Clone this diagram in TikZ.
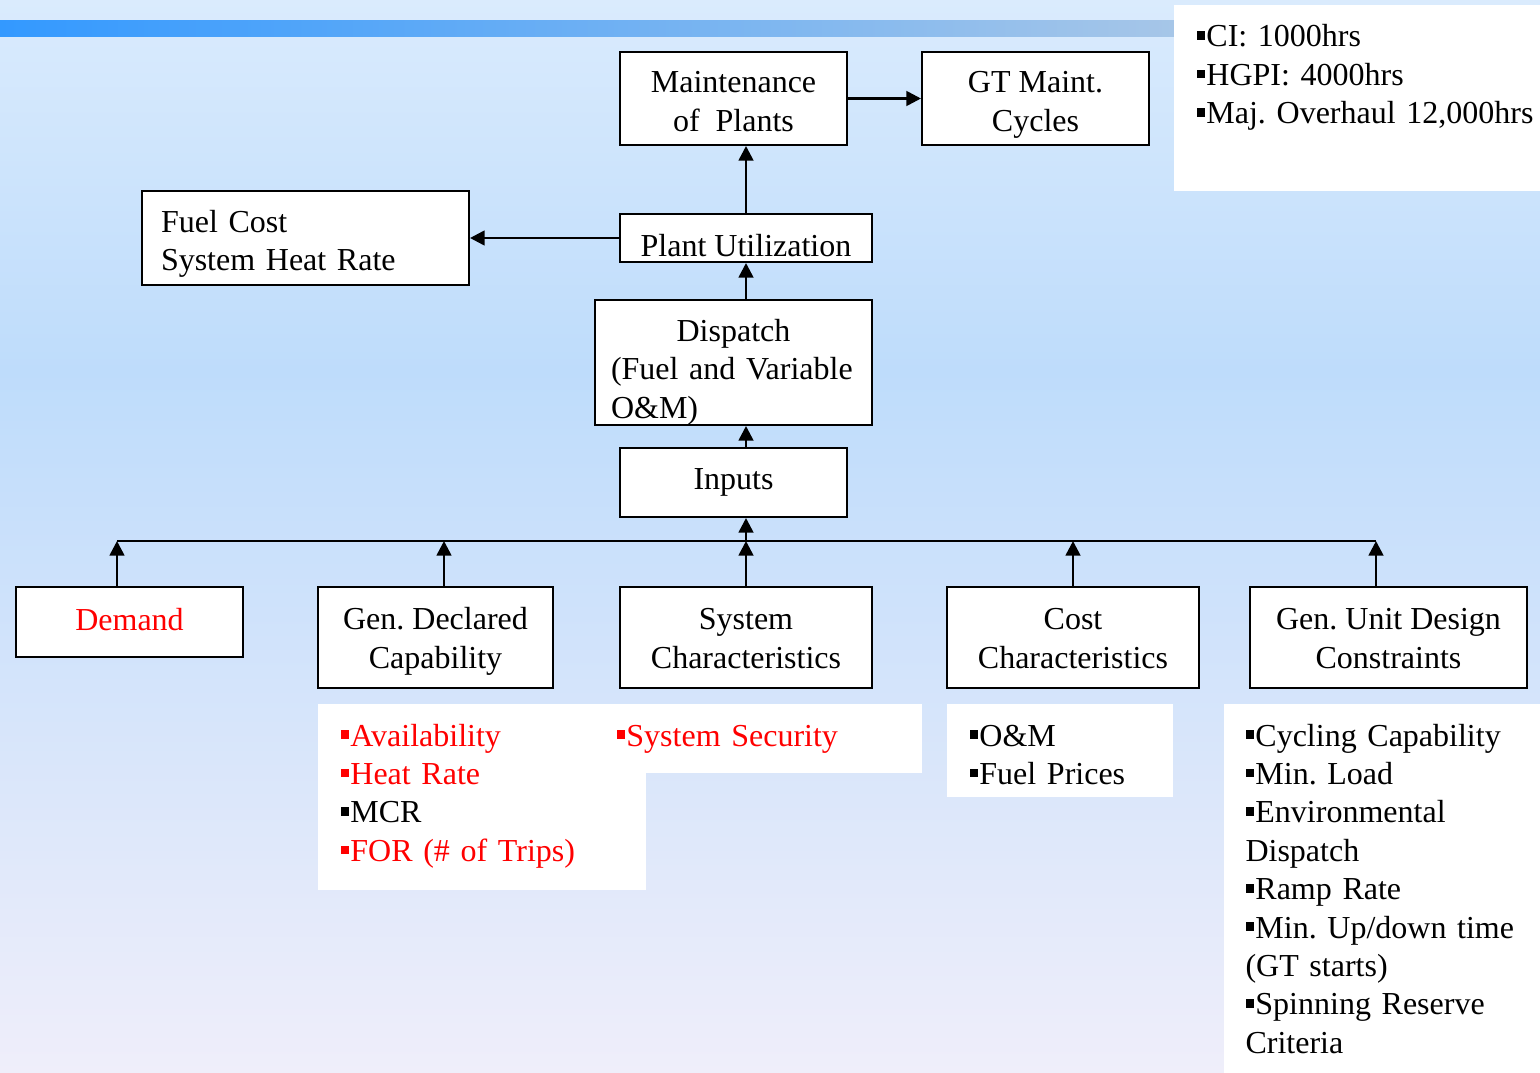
\documentclass[tikz,border=0pt]{standalone}
\usepackage{fontspec}
\setmainfont{Liberation Serif}
\usetikzlibrary{arrows.meta}

\definecolor{bgtop}{HTML}{DAEBFD}
\definecolor{bgmid}{HTML}{BEDCFB}
\definecolor{bgbot}{HTML}{EFEEFA}
\definecolor{barleft}{HTML}{3399FF}
\definecolor{barright}{HTML}{A6C6E8}
\definecolor{itemred}{HTML}{FF0000}

\newcommand{\sqbul}{\rule[0.22em]{0.25em}{0.27em}\hspace{0.06em}}
\newcommand{\lnup}[1][23pt]{\rule{0pt}{#1}}
\newcommand{\lndn}[1][6pt]{\rule[-#1]{0pt}{#1}}
\frenchspacing

\tikzset{every picture/.style={line width=0.75pt}}
\tikzset{
  blockbox/.style={draw=black, line width=1.5pt, fill=white, align=center, inner sep=0pt,
    font=\fontsize{24}{28.8}\selectfont},
  listtext/.style={anchor=base west, inner sep=0pt, align=left, text width=#1,
    font=\fontsize{24}{28.8}\selectfont},
  uparrow/.style={-{Triangle[length=11pt,width=11pt]}, line width=2pt},
}

\begin{document}
\begin{tikzpicture}[x=0.75pt,y=0.75pt,yscale=-1,xscale=1]
\useasboundingbox (0,0) rectangle (1540,1073);
%Shape: background
\fill[top color=bgtop, bottom color=bgmid] (0,0) rectangle (1540,371);
\fill[top color=bgmid, bottom color=bgbot] (0,370) rectangle (1540,1073);
%Shape: title bar
\fill[left color=barleft, right color=barright] (0,21) rectangle (1174,37);
%Shape: white panels
\fill[white] (1174,5) rectangle (1540,191);
\fill[white] (318,704) rectangle (646,890);
\fill[white] (600,704) rectangle (922,773);
\fill[white] (947,704) rectangle (1173,797);
\fill[white] (1224,704) rectangle (1540,1073);

% Upper blocks
\node[blockbox, minimum width=170.25pt, minimum height=69.75pt] (maint) at (733.5,98.5) {\lnup[26.5pt]Maintenance\\of\ \ Plants\lndn};
\node[blockbox, minimum width=170.25pt, minimum height=69.75pt] (gtcyc) at (1035.5,98.5) {\lnup[26.5pt]GT Maint.\\Cycles\lndn};
\node[blockbox, align=left, text width=216.75pt, inner xsep=14.25pt, minimum height=70.5pt] (fuel) at (305.5,238) {\lnup[26.5pt]Fuel Cost\\System Heat Rate\lndn};
\node[blockbox, minimum width=189pt, minimum height=36pt] (util) at (746,238) {\rule{0pt}{28pt}Plant Utilization};
\node[blockbox, align=left, text width=183.75pt, inner xsep=12pt, minimum height=93.75pt] (disp) at (733.5,362.5) {\lnup[31pt]\hspace*{\fill}Dispatch\hspace*{\fill}\mbox{}\\(Fuel and Variable\\O\&M)};
\node[blockbox, minimum width=170.25pt, minimum height=51.75pt] (inputs) at (733.5,482.5) {Inputs};

% Lower blocks
\node[blockbox, minimum width=170.25pt, minimum height=52.5pt, text=itemred] (demand) at (129.5,622) {Demand\lndn[4.5pt]};
\node[blockbox, minimum width=176.25pt, minimum height=75.75pt] (gendec) at (435.5,637.5) {\lnup Gen. Declared\\Capability\lndn};
\node[blockbox, minimum width=189pt, minimum height=75.75pt] (syschar) at (746,637.5) {\lnup System\\Characteristics\lndn};
\node[blockbox, minimum width=189pt, minimum height=75.75pt] (costchar) at (1073,637.5) {\lnup Cost\\Characteristics\lndn};
\node[blockbox, minimum width=207.75pt, minimum height=75.75pt] (unitdes) at (1388.5,637.5) {\lnup Gen. Unit Design\\Constraints\lndn};

% Bus
\coordinate (busl) at (117,541);
\coordinate (busg) at (444,541);
\coordinate (busm) at (746,541);
\coordinate (busc) at (1073,541);
\coordinate (busr) at (1376,541);
\draw[line width=1.5pt] (busl) -- (busr);

% Arrows
\draw[uparrow] (busl |- demand.north) -- (busl);
\draw[uparrow] (busg |- gendec.north) -- (busg);
\draw[uparrow] (syschar.north) -- (busm);
\draw[uparrow] (costchar.north) -- (busc);
\draw[uparrow] (busr |- unitdes.north) -- (busr);
\draw[uparrow] (busm) -- (busm |- inputs.south);
\draw[uparrow] (inputs.north -| util) -- (disp.south -| util);
\draw[uparrow] (disp.north -| util) -- (util.south);
\draw[uparrow] (util.north) -- (util.north |- maint.south);
\draw[uparrow] (maint) -- (gtcyc);
\draw[uparrow] (util) -- (fuel);

% Text Node
\node[listtext=260pt] (cycles) at (1196,47) {\sqbul CI: 1000hrs\\\sqbul HGPI: 4000hrs\\\sqbul Maj. Overhaul 12,000hrs};
% Text Node
\node[listtext=280pt] (declist) at (340,746) {\textcolor{itemred}{\sqbul Availability}\\\textcolor{itemred}{\sqbul Heat Rate}\\\sqbul MCR\\\textcolor{itemred}{\sqbul FOR (\# of Trips)}};
% Text Node
\node[listtext=290pt, text=itemred] (seclist) at (616,746) {\sqbul System Security};
% Text Node
\node[listtext=200pt] (costlist) at (969,746) {\sqbul O\&M\\\sqbul Fuel Prices};
% Text Node
\node[listtext=290pt] (designlist) at (1245,746) {\sqbul Cycling Capability\\\sqbul Min. Load\\\sqbul Environmental\\Dispatch\\\sqbul Ramp Rate\\\sqbul Min. Up/down time\\(GT starts)\\\sqbul Spinning Reserve\\Criteria};
\end{tikzpicture}
\end{document}
